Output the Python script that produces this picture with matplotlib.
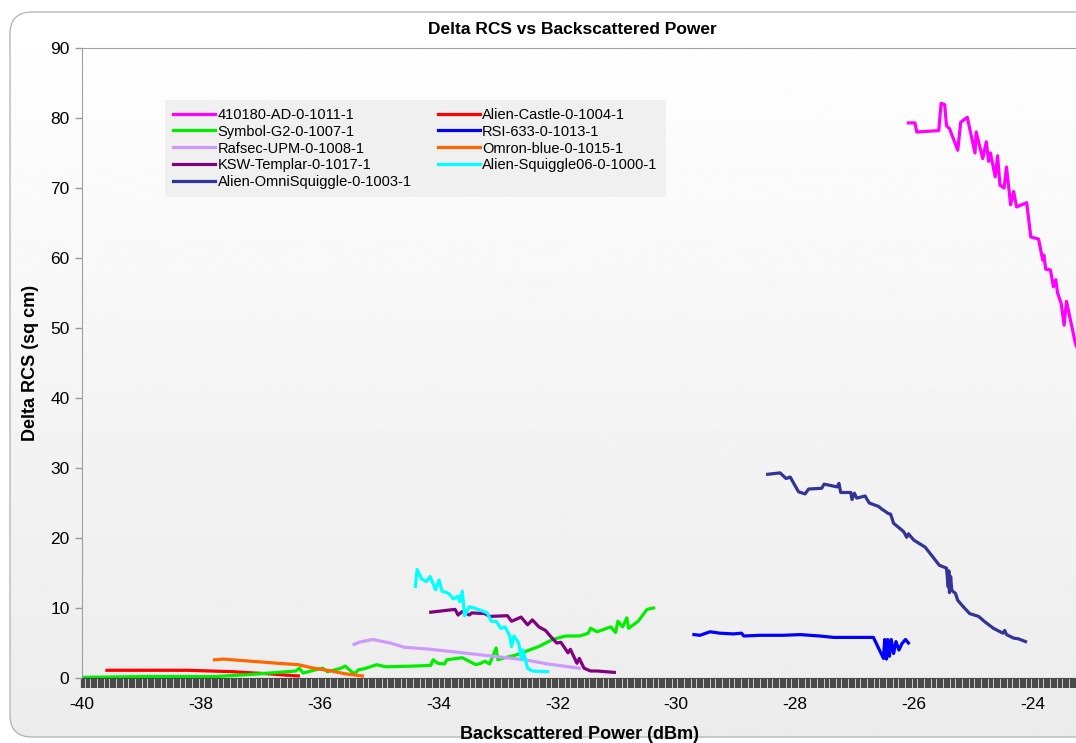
import numpy as np
import matplotlib
matplotlib.use("Agg")
import matplotlib.pyplot as plt
from matplotlib.patches import FancyBboxPatch
from matplotlib.ticker import MultipleLocator

plt.rcParams["font.family"] = ["Liberation Sans", "DejaVu Sans"]
plt.rcParams["axes.unicode_minus"] = False

# series data (backscattered power dBm, delta RCS sq cm)
ad_x = [-26.09, -25.98, -25.95, -25.58, -25.54, -25.48, -25.45, -25.40, -25.26, -25.21,
        -25.10, -24.97, -24.95, -24.84, -24.78, -24.74, -24.71, -24.63, -24.59, -24.55,
        -24.48, -24.44, -24.37, -24.32, -24.27, -24.10, -24.03, -23.90, -23.83, -23.81,
        -23.78, -23.70, -23.65, -23.61, -23.58, -23.52, -23.47, -23.43, -23.28, -23.10]
ad_y = [79.3, 79.3, 78.0, 78.2, 82.1, 81.9, 78.9, 78.5, 75.4, 79.4,
        80.1, 75.0, 78.0, 74.2, 76.6, 73.8, 75.0, 71.6, 74.6, 70.4,
        70.0, 73.0, 67.6, 69.5, 67.3, 67.9, 63.0, 62.7, 59.7, 60.4,
        58.4, 58.3, 55.9, 56.9, 55.0, 53.5, 50.4, 53.8, 47.8, 44.0]

castle_x = [-39.58, -38.22, -37.46, -37.08, -36.86, -36.55, -36.36]
castle_y = [1.1, 1.1, 0.9, 0.7, 0.6, 0.4, 0.3]

symbol_x = [-39.96, -39.0, -38.2, -37.77, -37.16, -36.86, -36.40, -36.34, -36.28, -36.10,
            -35.95, -35.87, -35.64, -35.57, -35.42, -35.34, -35.26, -35.04, -34.89, -34.43,
            -34.13, -34.09, -34.01, -33.90, -33.86, -33.60, -33.37, -33.29, -33.22, -33.14,
            -33.03, -33.00, -32.88, -32.69, -32.31, -32.08, -31.86, -31.63, -31.55, -31.48,
            -31.44, -31.33, -31.10, -31.02, -30.98, -30.90, -30.83, -30.80, -30.64, -30.49,
            -30.38]
symbol_y = [0.1, 0.2, 0.2, 0.2, 0.5, 0.7, 1.0, 1.4, 0.7, 1.1,
            1.4, 0.9, 1.4, 1.7, 0.6, 1.2, 1.3, 1.9, 1.6, 1.7,
            1.8, 2.6, 2.1, 2.0, 2.6, 2.9, 1.9, 2.1, 2.4, 2.0,
            4.3, 2.6, 2.9, 3.3, 4.5, 5.5, 6.0, 6.0, 6.2, 6.4,
            7.1, 6.6, 7.3, 6.5, 8.1, 7.3, 8.6, 7.1, 8.1, 9.8,
            10.0]

rsi_x = [-29.70, -29.60, -29.43, -29.26, -29.04, -28.90, -28.86, -28.59, -28.20, -27.91,
         -27.58, -27.35, -26.68, -26.51, -26.49, -26.46, -26.44, -26.41, -26.38, -26.34,
         -26.30, -26.25, -26.20, -26.14, -26.09]
rsi_y = [6.2, 6.1, 6.6, 6.4, 6.3, 6.4, 6.0, 6.1, 6.1, 6.2,
         6.0, 5.8, 5.8, 2.8, 5.5, 2.7, 5.5, 3.1, 5.5, 3.5,
         5.2, 4.0, 4.9, 5.5, 5.0]

rafsec_x = [-35.42, -35.34, -35.11, -34.81, -34.58, -34.13, -33.60, -33.07, -32.54, -32.16,
            -31.63]
rafsec_y = [4.8, 5.1, 5.5, 5.0, 4.4, 4.1, 3.6, 3.1, 2.6, 2.0,
            1.4]

omron_x = [-37.77, -37.62, -37.16, -36.70, -36.36, -36.10, -35.80, -35.57, -35.28]
omron_y = [2.6, 2.7, 2.4, 2.1, 1.9, 1.4, 1.0, 0.6, 0.3]

ksw_x = [-34.13, -33.83, -33.72, -33.67, -33.60, -33.48, -33.44, -33.22, -33.14, -32.84,
         -32.77, -32.61, -32.50, -32.42, -32.31, -32.20, -32.12, -32.01, -31.94, -31.82,
         -31.78, -31.67, -31.63, -31.55, -31.44, -31.33, -31.04]
ksw_y = [9.4, 9.7, 9.8, 9.0, 9.5, 9.0, 9.3, 9.2, 8.8, 8.9,
         8.1, 8.7, 7.6, 8.3, 7.3, 6.8, 6.0, 5.0, 5.1, 3.6,
         4.1, 2.1, 2.8, 1.4, 1.0, 1.0, 0.8]

squig_x = [-34.39, -34.36, -34.28, -34.20, -34.14, -34.05, -33.99, -33.94, -33.83, -33.75,
           -33.67, -33.64, -33.60, -33.56, -33.48, -33.33, -33.18, -33.11, -33.03, -32.95,
           -32.88, -32.80, -32.77, -32.73, -32.65, -32.60, -32.58, -32.50, -32.42, -32.16]
squig_y = [13.1, 15.5, 14.1, 13.8, 14.5, 12.6, 14.0, 12.4, 12.1, 11.3,
           11.7, 10.9, 12.4, 8.9, 10.2, 9.8, 9.3, 8.1, 8.1, 7.1,
           7.3, 6.0, 4.5, 6.0, 5.0, 2.6, 4.0, 1.4, 1.0, 0.9]

omni_x = [-28.46, -28.25, -28.15, -28.08, -27.94, -27.83, -27.77, -27.55, -27.51, -27.29,
          -27.26, -27.23, -27.06, -27.04, -27.00, -26.96, -26.82, -26.75, -26.59, -26.55,
          -26.43, -26.39, -26.34, -26.24, -26.17, -26.12, -26.09, -26.00, -25.81, -25.68,
          -25.57, -25.45, -25.42, -25.41, -25.40, -25.38, -25.36, -25.30, -25.26, -25.19,
          -25.06, -24.91, -24.80, -24.66, -24.50, -24.47, -24.44, -24.32, -24.24, -24.12]
omni_y = [29.1, 29.3, 28.5, 28.7, 26.6, 26.3, 27.0, 27.1, 27.7, 27.3,
          27.8, 26.5, 26.5, 25.5, 26.4, 25.7, 26.0, 25.0, 24.5, 24.2,
          23.5, 23.4, 22.1, 21.4, 20.9, 20.1, 20.6, 19.7, 18.7, 17.3,
          16.1, 15.7, 13.0, 15.3, 12.2, 14.5, 12.5, 12.1, 11.1, 10.4,
          9.2, 8.8, 8.0, 7.1, 6.4, 6.8, 6.2, 5.7, 5.6, 5.2]

labels = ["410180-AD-0-1011-1", "Alien-Castle-0-1004-1", "Symbol-G2-0-1007-1",
          "RSI-633-0-1013-1", "Rafsec-UPM-0-1008-1", "Omron-blue-0-1015-1",
          "KSW-Templar-0-1017-1", "Alien-Squiggle06-0-1000-1",
          "Alien-OmniSquiggle-0-1003-1"]
xs = [ad_x, castle_x, symbol_x, rsi_x, rafsec_x, omron_x, ksw_x, squig_x, omni_x]
ys = [ad_y, castle_y, symbol_y, rsi_y, rafsec_y, omron_y, ksw_y, squig_y, omni_y]
colors = ["#ff00ff", "#ff0000", "#00ee00", "#0000ff", "#cc99ff", "#ff6600",
          "#800080", "#00ffff", "#333399"]

fig = plt.figure(figsize=(10.76, 7.43), dpi=100)

# background with gradient and rounded frame
bg = fig.add_axes([0, 0, 1, 1], zorder=0)
bg.set_xlim(0, 1076)
bg.set_ylim(743, 0)
bg.axis("off")
grad = np.linspace(1.0, 0.925, 256).reshape(-1, 1)
frame = FancyBboxPatch((10, 12), 1100, 725, boxstyle="round,pad=0,rounding_size=22",
                       facecolor="none", edgecolor="#b8b8b8", linewidth=1.0)
bg.add_patch(frame)
img = bg.imshow(grad, cmap="gray", vmin=0, vmax=1, extent=[10, 1110, 737, 12],
                aspect="auto", zorder=0)
img.set_clip_path(frame)

ax = fig.add_axes([82 / 1076, 65 / 743, 994 / 1076, 630 / 743], zorder=1)
ax.patch.set_alpha(0)

for x, y, c, lab in zip(xs, ys, colors, labels):
    ax.plot(x, y, color=c, linewidth=2.3, label=lab, solid_joinstyle="round")

ax.set_xlim(-40, -23.27)
ax.set_ylim(0, 90)
ax.xaxis.set_major_locator(MultipleLocator(2))
ax.xaxis.set_minor_locator(MultipleLocator(0.04))
ax.yaxis.set_major_locator(MultipleLocator(10))

ax.tick_params(axis="x", which="major", length=7, width=1.6, color="#4a4a4a",
               labelsize=12.5, pad=7)
ax.tick_params(axis="x", which="minor", length=7, width=1.6, color="#4a4a4a")
ax.tick_params(axis="y", which="major", length=5, width=1, color="#999999",
               labelsize=12.5, pad=4)

ax.spines["left"].set_color("#a0a0a0")
ax.spines["top"].set_color("#a0a0a0")
ax.spines["bottom"].set_color("#4a4a4a")
ax.spines["right"].set_visible(False)

ax.set_xlabel("Backscattered Power (dBm)", fontsize=13, fontweight="bold", labelpad=10)
ax.set_ylabel("Delta RCS (sq cm)", fontsize=13, fontweight="bold", labelpad=8)
fig.text(572 / 1076, 1 - 30 / 743, "Delta RCS vs Backscattered Power",
         fontsize=12.5, fontweight="bold", ha="center", va="center")

handles, labs = ax.get_legend_handles_labels()
order = [0, 2, 4, 6, 8, 1, 3, 5, 7]
leg = ax.legend([handles[i] for i in order], [labs[i] for i in order],
                ncol=2, loc="upper left", bbox_to_anchor=(0.0835, 0.918),
                fontsize=10.5, frameon=True, fancybox=False, handlelength=2.9,
                handletextpad=0.15, columnspacing=1.8, labelspacing=0.2,
                borderpad=0.55, borderaxespad=0)
leg.get_frame().set_facecolor("#f0f0f0")
leg.get_frame().set_edgecolor("none")
leg.get_frame().set_alpha(1)

fig.savefig("out.png", dpi=100)
